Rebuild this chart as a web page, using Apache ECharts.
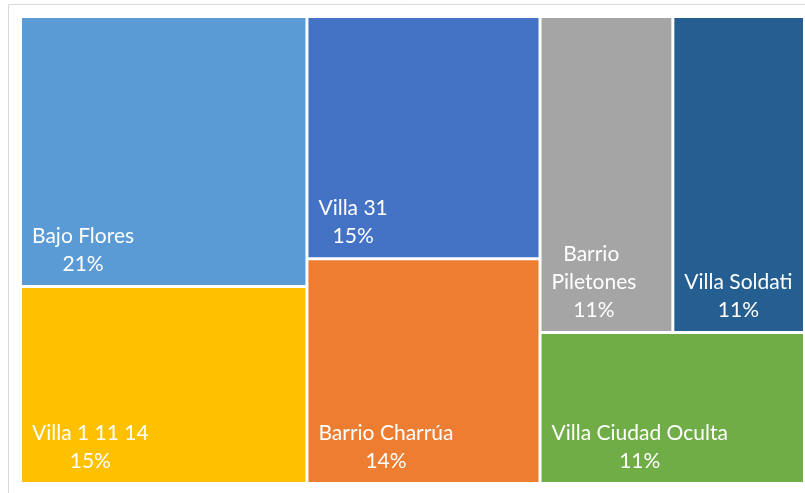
<!DOCTYPE html>
<html>
<head>
<meta charset="utf-8">
<script src="https://cdn.jsdelivr.net/npm/echarts@6/dist/echarts.min.js"></script>
<style>
  html, body { margin: 0; padding: 0; background: #fff; }
  #chart { width: 805px; height: 493px; }
</style>
</head>
<body>
<div id="chart"></div>
<script>
// datos (porcentaje de cada barrio)
const names = ['Bajo Flores', 'Villa 1 11 14', 'Villa 31', 'Barrio Charrúa', 'Barrio Piletones', 'Villa Soldati', 'Villa Ciudad Oculta'];
const values = [21.1, 15.4, 15.4, 14.3, 11.45, 11.35, 10.9];
const colors = ['#5B9BD5', '#FFC000', '#4472C4', '#ED7D31', '#A5A5A5', '#255E91', '#70AD47'];

const total = values.reduce((a, b) => a + b, 0);

const FONT_SIZE = 21;
const FONT_FAMILY = 'Lato';
const LINE_H = 28;
const PAD = [0, 6, 7, 10]; // top right bottom left

// medir texto para centrar las líneas de cada etiqueta
const ctx = document.createElement('canvas').getContext('2d');
ctx.font = FONT_SIZE + 'px ' + FONT_FAMILY;
function textWidth(s) { return ctx.measureText(s).width; }

function wrapLines(s, avail) {
  const out = [];
  let cur = '';
  s.split(' ').forEach(function (w) {
    const t = cur ? cur + ' ' + w : w;
    if (cur && textWidth(t) > avail) { out.push(cur); cur = w; } else { cur = t; }
  });
  out.push(cur);
  return out;
}

const treeData = names.map((n, i) => ({
  name: n,
  value: values[i],
  itemStyle: { color: colors[i] }
}));

const chart = echarts.init(document.getElementById('chart'));

const option = {
  animation: false,
  graphic: [{
    type: 'rect',
    silent: true,
    z: -10,
    shape: { x: 8.5, y: 4.5, width: 830, height: 530 },
    style: { fill: 'none', stroke: '#d9d9d9', lineWidth: 1 }
  }],
  series: [{
    type: 'treemap',
    left: 22,
    top: 18,
    width: 781,
    height: 464,
    sort: false,
    squareRatio: 1.37,
    roam: false,
    nodeClick: false,
    breadcrumb: { show: false },
    levels: [
      { itemStyle: { gapWidth: 3, borderWidth: 0, borderColor: '#fff' } },
      { itemStyle: { borderWidth: 0 } }
    ],
    label: {
      show: true,
      position: 'insideBottomLeft',
      distance: 0,
      padding: PAD,
      color: '#fff',
      fontFamily: FONT_FAMILY,
      fontSize: FONT_SIZE,
      lineHeight: LINE_H,
      overflow: 'break',
      formatter: function (p) {
        return p.name + '\n' + Math.round(p.value / total * 100) + '%';
      }
    },
    labelLayout: function (params) {
      const r = params.rect;
      const avail = r.width - PAD[1] - PAD[3];
      let lines = [];
      String(params.text || '').split('\n').forEach(function (part) {
        lines = lines.concat(wrapLines(part, avail));
      });
      const maxW = Math.max.apply(null, lines.map(textWidth));
      return {
        x: r.x + PAD[3] + maxW / 2 - (PAD[3] - PAD[1]) / 2,
        y: r.y + r.height,
        align: 'center',
        verticalAlign: 'bottom'
      };
    },
    emphasis: { disabled: true },
    data: treeData
  }]
};

chart.setOption(option);
</script>
</body>
</html>
